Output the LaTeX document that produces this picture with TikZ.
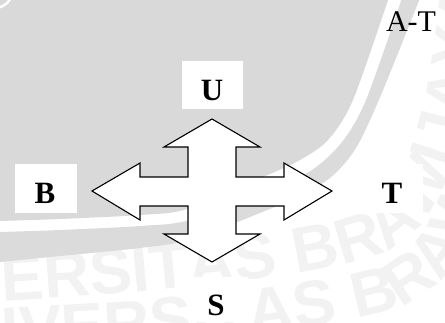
\documentclass[tikz,border=0pt]{standalone}
\usepackage{fontspec}
\setmainfont{Liberation Serif}
\setsansfont{Liberation Sans}
\usetikzlibrary{decorations.text}

\definecolor{wmgray}{HTML}{D9D9D9}
\definecolor{wmband}{HTML}{DBDBDB}
\definecolor{wmtext}{HTML}{F2F2F2}
\newcommand\wmfont{\fontsize{64}{64}\selectfont\sffamily\bfseries}

\tikzset{
  compass/.style={font=\fontsize{31}{31}\selectfont\bfseries, inner sep=0pt},
  plainlabel/.style={font=\fontsize{30}{30}\selectfont, inner sep=0pt},
  labelbox/.style={fill=white},
  crossarrow/.style={draw=black, fill=white, line width=1.1pt, line join=miter},
  wmrow/.style={decorate, decoration={text along path, text color=wmtext,
      text={|\wmfont|UNIVERSITAS BRAWIJAYA}}},
}

\begin{document}
\begin{tikzpicture}[x=1pt, y=-1pt]
\useasboundingbox (0,0) rectangle (445,322);
\begin{scope}
  \clip (0,0) rectangle (445,322);

  % watermark lettering along the ring
  \path[wmrow] (-150,310) .. controls (50,300) and (250,288) .. (360,260)
                .. controls (440,238) and (470,170) .. (490,-60);
  \path[wmrow] (-90,356) .. controls (100,350) and (280,338) .. (385,312)
                .. controls (455,292) and (495,225) .. (525,40);

  % grey logo field
  \fill[wmgray] (0,0) -- plot[smooth] coordinates {(388,0) (353,100) (328,140) (300,160)
      (263,177) (187,209) (140,215) (60,219) (0,221)} -- cycle;

  % outer grey ring
  \fill[wmband] plot[smooth] coordinates {(402,-2) (366,100) (342,142) (312,170) (270,190)
      (190,220) (140,226) (60,230) (0,232)}
    -- plot[smooth] coordinates {(0,262) (60,256) (140,248) (190,240) (250,217) (295,198)
      (330,178) (356,148) (381,95) (420,-2)} -- cycle;

  \draw[white, line width=2.5pt] (-2,8) .. controls (4,6) and (8,3) .. (11,-2);
\end{scope}

% four-way arrow
\draw[crossarrow] (212,119) -- (260,147) -- (236,147) -- (236,177) -- (284,177)
  -- (284,163) -- (332,191) -- (284,220) -- (284,206) -- (236,206) -- (236,234)
  -- (260,234) -- (212,262) -- (164,234) -- (188,234) -- (188,206) -- (140,206)
  -- (140,220) -- (92,191) -- (140,163) -- (140,177) -- (188,177) -- (188,147)
  -- (164,147) -- cycle;

% label backgrounds
\fill[labelbox] (182,61) rectangle (243,109);
\fill[labelbox] (15,164) rectangle (77,213);
\fill[labelbox] (362,164) rectangle (423,213);
\fill[labelbox] (188,277) rectangle (248,322);

% direction labels
\node[compass] (u) at (212,90) {U};
\node[compass] (b) at (45,193) {B};
\node[compass] (t) at (392,193) {T};
\node[compass] (s) at (216,305) {S};
\node[plainlabel] (at) at (411,22) {A-T};
\end{tikzpicture}
\end{document}
